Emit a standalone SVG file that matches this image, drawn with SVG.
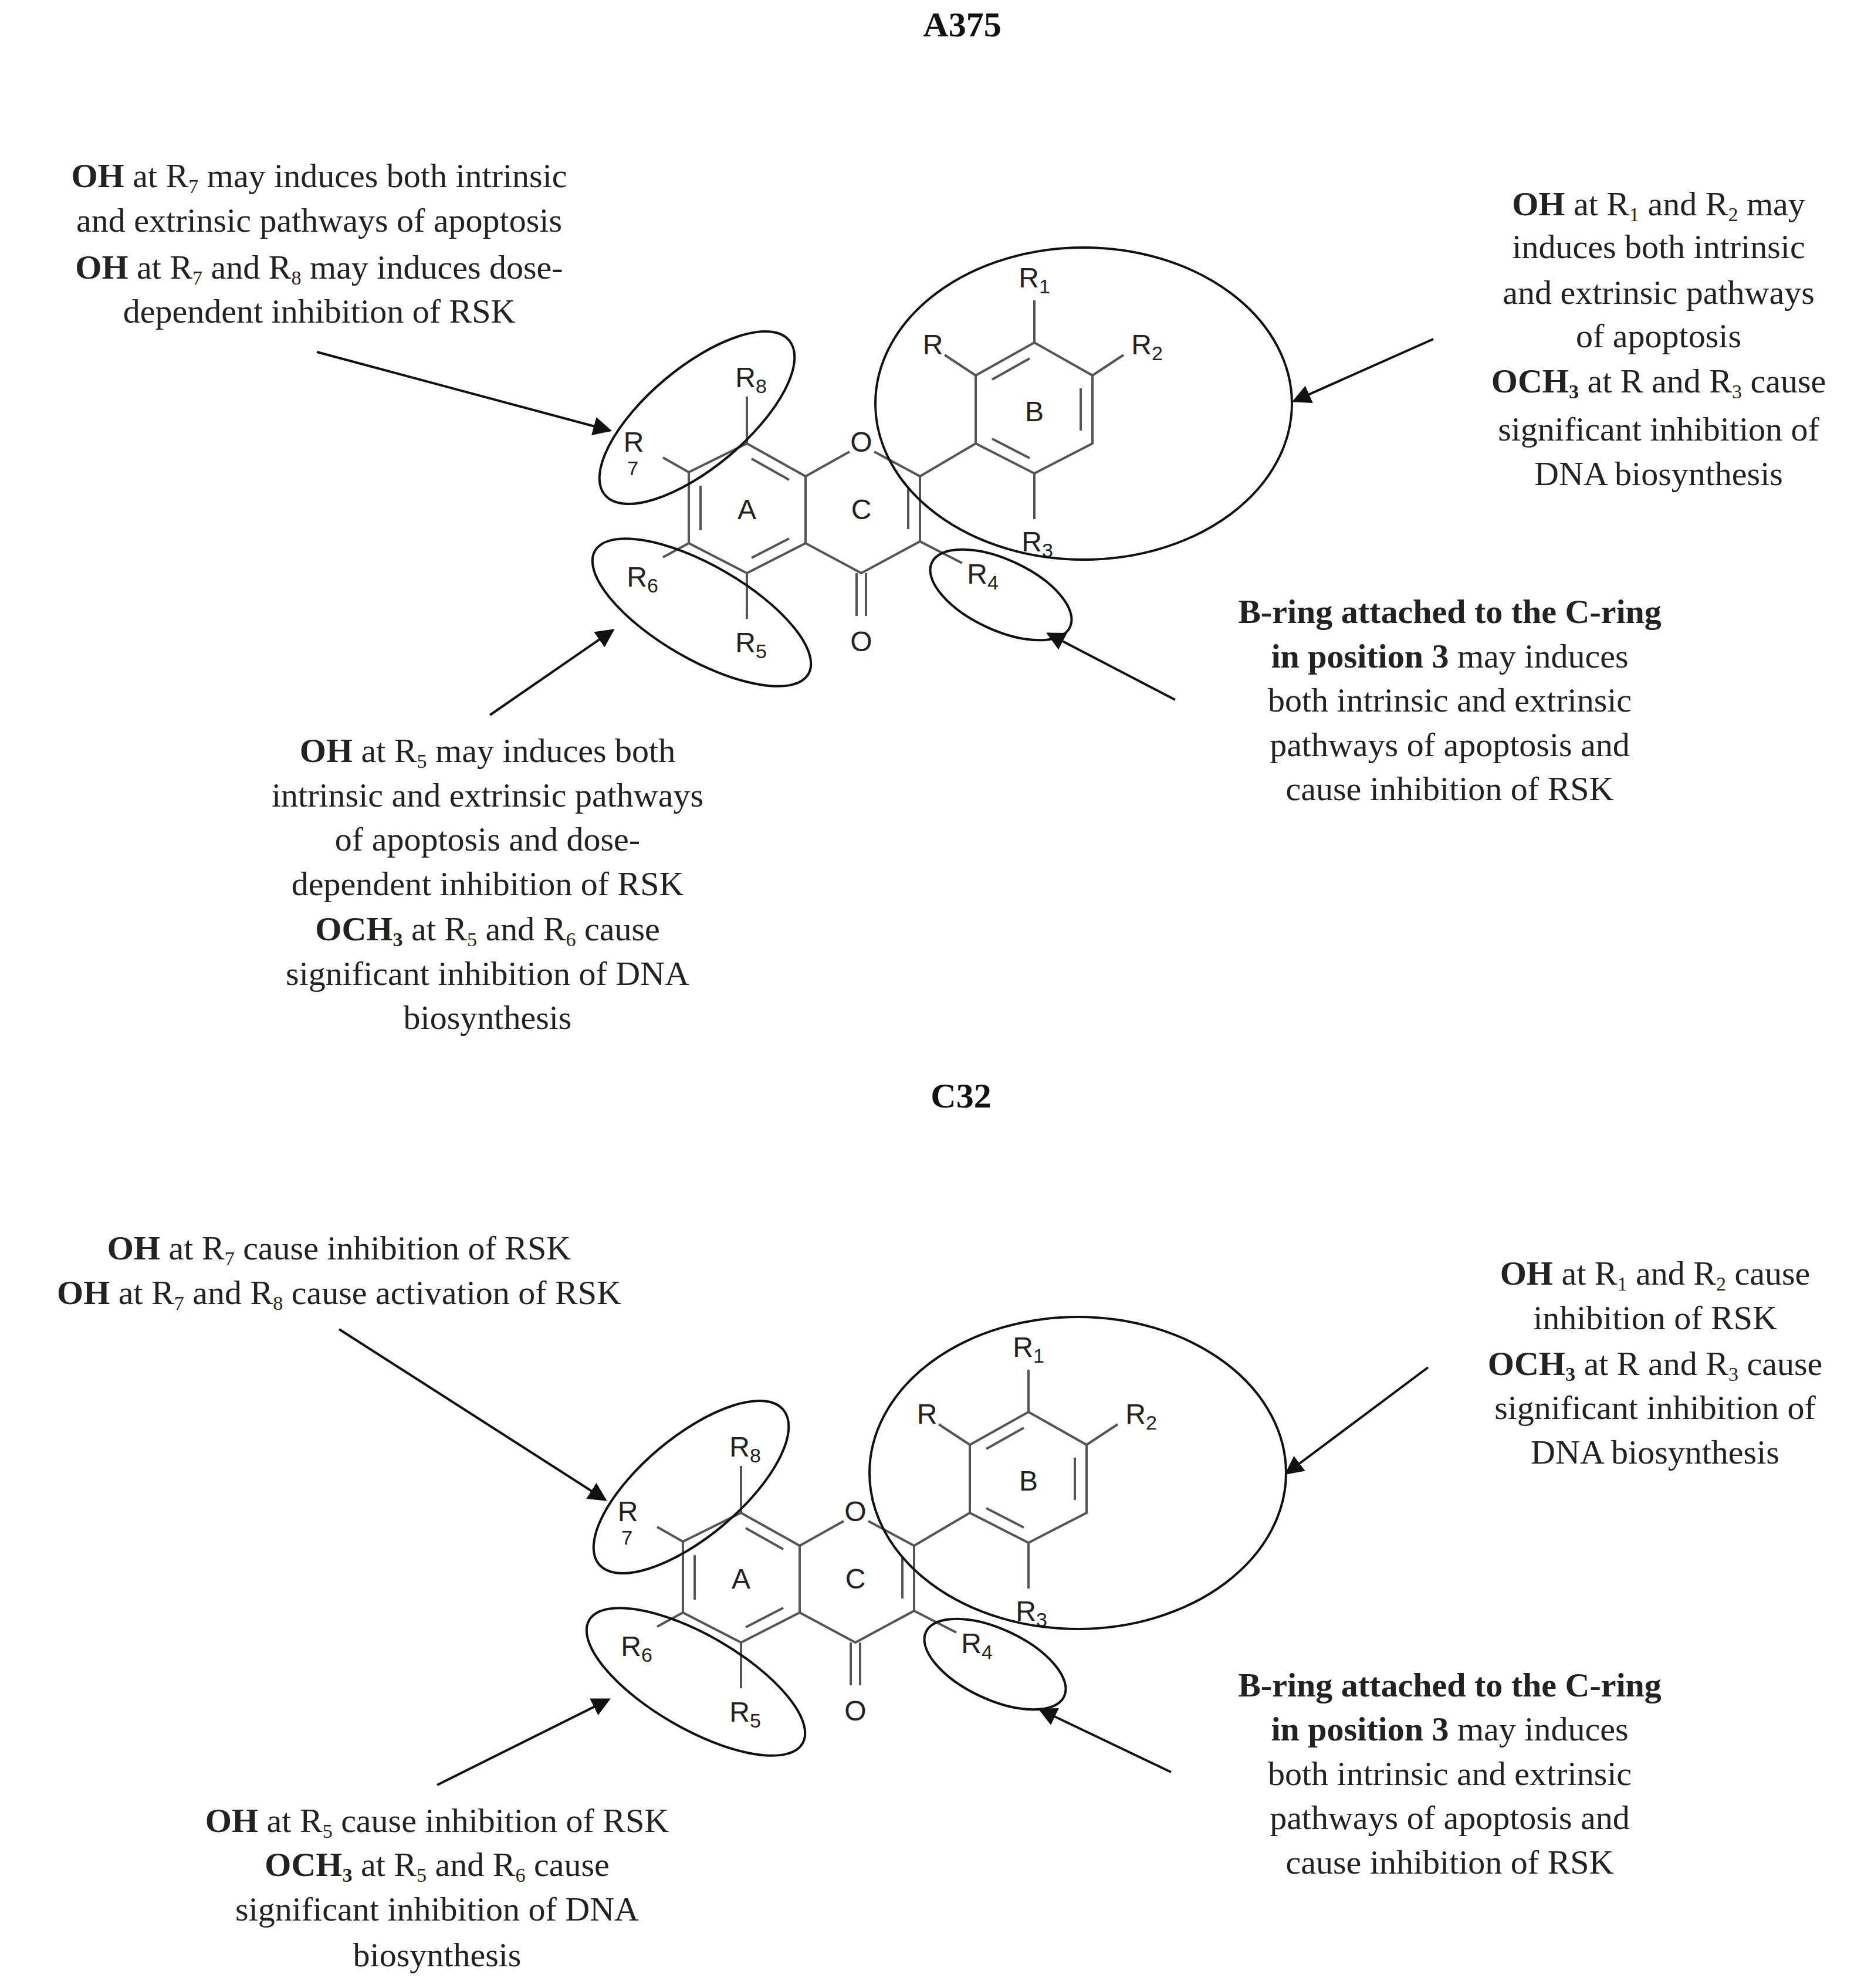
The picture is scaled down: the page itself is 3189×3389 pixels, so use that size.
<svg xmlns="http://www.w3.org/2000/svg" xmlns:xlink="http://www.w3.org/1999/xlink" width="3189" height="3389" viewBox="0 0 3189 3389">
<style>
.t{font-family:"Liberation Serif","Times New Roman",serif;font-size:58px;fill:#222;text-anchor:middle}
.h{font-family:"Liberation Serif","Times New Roman",serif;font-size:60px;font-weight:bold;fill:#111;text-anchor:middle}
.b{stroke:#555;stroke-width:4;fill:none}
.e{stroke:#111;stroke-width:4;fill:none}
.a{font-family:"Liberation Sans",Arial,sans-serif;font-size:48px;fill:#222;text-anchor:middle}
.s{font-size:34px}
.ar{stroke:#111;stroke-width:4;fill:none;marker-end:url(#ah)}
</style>
<defs>
<marker id="ah" viewBox="0 0 10 10" refX="9" refY="5" markerWidth="8" markerHeight="8" markerUnits="strokeWidth" orient="auto"><path d="M0,0 L10,5 L0,10 z" fill="#111"/></marker>
<g id="mol">
<g class="b">
<path d="M1273,756 L1373,812 L1373,926 L1273,977 L1174,926 L1174,805 Z"/>
<path d="M1281,782 L1345,818 M1194,828 L1194,904 M1281,951 L1345,918"/>
<path d="M1373,812 L1448,770 M1490,770 L1568,812 L1568,923 L1468,977 L1373,926"/>
<path d="M1548,833 L1548,902"/>
<path d="M1460,977 L1460,1050 M1476,977 L1476,1050"/>
<path d="M1663,640 L1763,584 L1862,640 L1862,756 L1763,807 L1663,756 Z"/>
<path d="M1691,647 L1755,611 M1842,662 L1842,734 M1755,781 L1691,748"/>
<path d="M1568,812 L1663,756 M1663,640 L1610,605 M1763,584 L1763,512 M1862,640 L1915,605 M1763,807 L1763,885"/>
<path d="M1273,756 L1273,676 M1174,805 L1130,780 M1174,926 L1130,950 M1273,977 L1273,1055 M1568,923 L1640,960"/>
</g>
<g class="a">
<text x="1468" y="770">O</text>
<text x="1468" y="1110">O</text>
<text x="1273" y="885">A</text>
<text x="1468" y="885">C</text>
<text x="1763" y="718">B</text>
<text x="1590" y="604">R</text>
<text x="1763" y="490">R<tspan class="s" dy="10">1</tspan></text>
<text x="1955" y="604">R<tspan class="s" dy="10">2</tspan></text>
<text x="1768" y="940">R<tspan class="s" dy="10">3</tspan></text>
<text x="1675" y="995">R<tspan class="s" dy="10">4</tspan></text>
<text x="1280" y="1112">R<tspan class="s" dy="10">5</tspan></text>
<text x="1095" y="1000">R<tspan class="s" dy="10">6</tspan></text>
<text x="1080" y="770">R<tspan class="s" dx="-28" dy="40">7</tspan></text>
<text x="1280" y="660">R<tspan class="s" dy="10">8</tspan></text>
</g>
<g class="e">
<ellipse cx="1847" cy="688" rx="355" ry="266"/>
<ellipse cx="0" cy="0" rx="205" ry="85" transform="translate(1188,712) rotate(-40)"/>
<ellipse cx="0" cy="0" rx="210" ry="80" transform="translate(1196,1044) rotate(30)"/>
<ellipse cx="0" cy="0" rx="130" ry="60" transform="translate(1706,1014) rotate(25)"/>
</g>
</g>
</defs>

<text class="h" x="1640" y="62">A375</text>
<text class="h" x="1638" y="1888">C32</text>

<g id="molecule-A375"><use xlink:href="#mol"/></g>
<g id="molecule-C32"><use xlink:href="#mol" transform="translate(-10,1823)"/></g>

<g id="connectors">
<path class="ar" d="M540,600 L1040,734"/>
<path class="ar" d="M2443,578 L2205,684"/>
<path class="ar" d="M835,1219 L1045,1074"/>
<path class="ar" d="M2003,1193 L1786,1080"/>
<path class="ar" d="M578,2266 L1032,2557"/>
<path class="ar" d="M2434,2331 L2192,2512"/>
<path class="ar" d="M745,3043 L1038,2897"/>
<path class="ar" d="M1996,3021 L1772,2914"/>
</g>

<g id="text-a375-tl" class="t">
<text x="544" y="319"><tspan font-weight="bold">OH</tspan> at R<tspan class="s" dy="10">7</tspan><tspan dy="-10"> may induces both intrinsic</tspan></text>
<text x="544" y="395">and extrinsic pathways of apoptosis</text>
<text x="544" y="475"><tspan font-weight="bold">OH</tspan> at R<tspan class="s" dy="10">7</tspan><tspan dy="-10"> and R</tspan><tspan class="s" dy="10">8</tspan><tspan dy="-10"> may induces dose-</tspan></text>
<text x="544" y="550">dependent  inhibition of RSK</text>
</g>
<g id="text-a375-tr" class="t">
<text x="2827" y="367"><tspan font-weight="bold">OH</tspan> at R<tspan class="s" dy="10">1</tspan><tspan dy="-10"> and R</tspan><tspan class="s" dy="10">2</tspan><tspan dy="-10"> may</tspan></text>
<text x="2827" y="440">induces both intrinsic</text>
<text x="2827" y="518">and extrinsic pathways</text>
<text x="2827" y="592">of apoptosis</text>
<text x="2827" y="669"><tspan font-weight="bold">OCH</tspan><tspan class="s" font-weight="bold" dy="10">3</tspan><tspan dy="-10"> at R and R</tspan><tspan class="s" dy="10">3</tspan><tspan dy="-10"> cause</tspan></text>
<text x="2827" y="751">significant inhibition of</text>
<text x="2827" y="827">DNA  biosynthesis</text>
</g>
<g id="text-a375-br" class="t">
<text x="2471" y="1062" font-weight="bold">B-ring attached to the C-ring</text>
<text x="2471" y="1138"><tspan font-weight="bold">in position 3</tspan> may induces</text>
<text x="2471" y="1213">both intrinsic and extrinsic</text>
<text x="2471" y="1289">pathways of apoptosis and</text>
<text x="2471" y="1364">cause inhibition of RSK</text>
</g>
<g id="text-a375-bl" class="t">
<text x="831" y="1299"><tspan font-weight="bold">OH</tspan> at R<tspan class="s" dy="10">5</tspan><tspan dy="-10"> may induces both</tspan></text>
<text x="831" y="1375">intrinsic and extrinsic pathways</text>
<text x="831" y="1450">of apoptosis and dose-</text>
<text x="831" y="1526">dependent  inhibition of RSK</text>
<text x="831" y="1603"><tspan font-weight="bold">OCH</tspan><tspan class="s" font-weight="bold" dy="10">3</tspan><tspan dy="-10"> at R</tspan><tspan class="s" dy="10">5</tspan><tspan dy="-10"> and R</tspan><tspan class="s" dy="10">6</tspan><tspan dy="-10"> cause</tspan></text>
<text x="831" y="1679">significant inhibition of DNA</text>
<text x="831" y="1754">biosynthesis</text>
</g>

<g id="text-c32-tl" class="t">
<text x="578" y="2147"><tspan font-weight="bold">OH</tspan> at R<tspan class="s" dy="10">7</tspan><tspan dy="-10"> cause inhibition of RSK</tspan></text>
<text x="578" y="2223"><tspan font-weight="bold">OH</tspan> at R<tspan class="s" dy="10">7</tspan><tspan dy="-10"> and R</tspan><tspan class="s" dy="10">8</tspan><tspan dy="-10"> cause activation of RSK</tspan></text>
</g>
<g id="text-c32-tr" class="t">
<text x="2821" y="2190"><tspan font-weight="bold">OH</tspan> at R<tspan class="s" dy="10">1</tspan><tspan dy="-10"> and R</tspan><tspan class="s" dy="10">2</tspan><tspan dy="-10"> cause</tspan></text>
<text x="2821" y="2266">inhibition of RSK</text>
<text x="2821" y="2344"><tspan font-weight="bold">OCH</tspan><tspan class="s" font-weight="bold" dy="10">3</tspan><tspan dy="-10"> at R and R</tspan><tspan class="s" dy="10">3</tspan><tspan dy="-10"> cause</tspan></text>
<text x="2821" y="2419">significant inhibition of</text>
<text x="2821" y="2495">DNA  biosynthesis</text>
</g>
<g id="text-c32-br" class="t">
<text x="2471" y="2892" font-weight="bold">B-ring attached to the C-ring</text>
<text x="2471" y="2967"><tspan font-weight="bold">in position 3</tspan> may induces</text>
<text x="2471" y="3043">both intrinsic and extrinsic</text>
<text x="2471" y="3118">pathways of apoptosis and</text>
<text x="2471" y="3194">cause inhibition of RSK</text>
</g>
<g id="text-c32-bl" class="t">
<text x="745" y="3123"><tspan font-weight="bold">OH</tspan> at R<tspan class="s" dy="10">5</tspan><tspan dy="-10"> cause inhibition of RSK</tspan></text>
<text x="745" y="3198"><tspan font-weight="bold">OCH</tspan><tspan class="s" font-weight="bold" dy="10">3</tspan><tspan dy="-10"> at R</tspan><tspan class="s" dy="10">5</tspan><tspan dy="-10"> and R</tspan><tspan class="s" dy="10">6</tspan><tspan dy="-10"> cause</tspan></text>
<text x="745" y="3274">significant inhibition of DNA</text>
<text x="745" y="3352">biosynthesis</text>
</g>
</svg>
